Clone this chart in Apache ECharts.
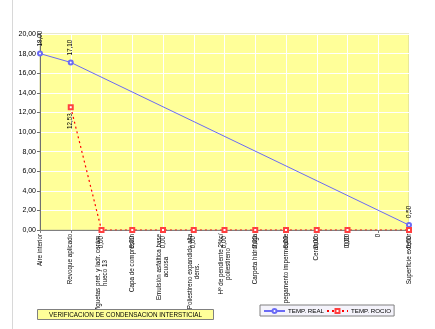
<!DOCTYPE html>
<html>
<head>
<meta charset="utf-8">
<script src="https://cdn.jsdelivr.net/npm/echarts@6.0.0/dist/echarts.min.js"></script>
<style>
  html, body { margin: 0; padding: 0; background: #ffffff; }
  #chart { width: 435px; height: 329px; }
</style>
</head>
<body>
<div id="chart"></div>
<script>
// Layers of the roof section, from the inside air to the outside surface
const categories = [
  'Aire interior',
  'Revoque aplicado',
  'Viguetas pret. y ladr. cerám.\nhueco 13',
  'Capa de compresión',
  'Emulsión asfáltica base\nacuosa',
  'Poliestireno expandido alta\ndens.',
  'Hº de pendiente 2%c/\npoliestireno',
  'Carpeta hidrófuga',
  'pegamento impermeable',
  'Cerámico',
  '0,00',
  '0',
  'Superficie exterior'
];

// Real temperature (°C) at each interface
const tempReal = [18.00, 17.10, null, null, null, null, null, null, null, null, null, null, 0.50];

// Dew-point temperature (°C) at each interface
const tempRocio = [null, 12.53, 0, 0, 0, 0, 0, 0, 0, 0, 0, null, 0];

// Y axis range and step
const yMin = 0;
const yMax = 20;
const yStep = 2;

const FONT = '"Liberation Sans", Arial, sans-serif';
const LABEL_SIZE = 6.3;

const fmt = v => v.toFixed(2).replace('.', ',');

// Multi-line category names: every line is centred on the longest one
const measureCtx = document.createElement('canvas').getContext('2d');
measureCtx.font = LABEL_SIZE + 'px "Liberation Sans"';
const rich = {};
categories.forEach((c, i) => {
  const w = Math.max.apply(null, c.split('\n').map(l => measureCtx.measureText(l).width));
  rich['k' + i] = {
    width: Math.ceil(w) + 1,
    align: 'center',
    fontSize: LABEL_SIZE,
    fontFamily: FONT,
    color: '#000000',
    lineHeight: 7
  };
});

const chart = echarts.init(document.getElementById('chart'), null, { renderer: 'canvas' });

chart.setOption({
  animation: false,
  backgroundColor: '#ffffff',
  textStyle: { fontFamily: FONT },
  title: {
    text: 'VERIFICACION DE CONDENSACION INTERSTICIAL',
    left: 37,
    top: 309,
    backgroundColor: '#ffff99',
    borderColor: '#808080',
    borderWidth: 1,
    padding: [3, 12, 2, 12],
    textStyle: { fontSize: 6.3, fontWeight: 'normal', color: '#000000', fontFamily: FONT }
  },
  legend: {
    left: 260,
    top: 305,
    backgroundColor: '#f4f3fb',
    borderColor: '#808080',
    borderWidth: 1,
    padding: [3, 3, 2, 3],
    itemWidth: 21,
    itemHeight: 5,
    itemGap: 2,
    textStyle: { fontSize: 6.2, color: '#000000', fontFamily: FONT, padding: [0, 0, 0, -2] },
    data: ['TEMP. REAL', 'TEMP. ROCIO']
  },
  grid: {
    left: 40,
    right: 26,
    top: 34,
    bottom: 99,
    show: true,
    backgroundColor: '#ffff99',
    borderColor: '#d2d296',
    borderWidth: 1
  },
  xAxis: {
    type: 'category',
    data: categories,
    boundaryGap: false,
    axisLine: { lineStyle: { color: '#808080', width: 1 } },
    axisTick: { show: true, length: 3, lineStyle: { color: '#808080' } },
    axisLabel: {
      interval: 0,
      rotate: 90,
      margin: 3,
      fontSize: LABEL_SIZE,
      color: '#000000',
      formatter: (value, idx) => value.split('\n').map(l => '{k' + idx + '|' + l + '}').join('\n'),
      rich: rich
    },
    splitLine: { show: true, lineStyle: { color: '#ffffff', width: 1 } }
  },
  yAxis: {
    type: 'value',
    min: yMin,
    max: yMax,
    interval: yStep,
    axisLine: { show: true, lineStyle: { color: '#707070', width: 1 } },
    axisTick: { show: true, length: 3, lineStyle: { color: '#707070' } },
    axisLabel: {
      margin: 4,
      fontSize: 7,
      color: '#000000',
      formatter: v => fmt(v)
    },
    splitLine: { show: true, lineStyle: { color: '#ffffff', width: 1 } }
  },
  series: [
    {
      name: 'TEMP. REAL',
      type: 'line',
      data: tempReal,
      connectNulls: true,
      symbol: 'emptyCircle',
      symbolSize: 4,
      color: '#6b6bf5',
      lineStyle: { color: '#6b6bf5', width: 1 },
      itemStyle: { color: '#6b6bf5', borderWidth: 0.8 },
      label: {
        show: true,
        position: 'top',
        distance: 4,
        rotate: 90,
        align: 'left',
        verticalAlign: 'middle',
        fontSize: 6.3,
        color: '#000000',
        formatter: p => fmt(p.value)
      },
      z: 3
    },
    {
      name: 'TEMP. ROCIO',
      type: 'line',
      data: tempRocio,
      connectNulls: true,
      symbol: 'emptyRect',
      symbolSize: 4,
      color: '#ff0000',
      lineStyle: { color: '#ff0000', width: 1.2, type: [2, 3] },
      itemStyle: { color: '#ff4040', borderWidth: 0.8 },
      label: {
        show: true,
        position: 'bottom',
        distance: 3,
        rotate: 90,
        align: 'right',
        verticalAlign: 'middle',
        fontSize: 6.3,
        color: '#000000',
        formatter: p => fmt(p.value)
      },
      z: 4
    }
  ],
  graphic: [
    {
      type: 'line',
      shape: { x1: 12.5, y1: 0, x2: 12.5, y2: 329 },
      style: { stroke: '#d8d8d8', lineWidth: 1 },
      silent: true
    }
  ]
});
</script>
</body>
</html>
